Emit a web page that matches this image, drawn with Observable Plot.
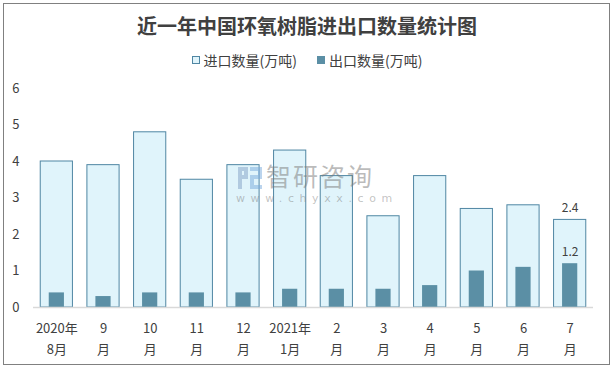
<!DOCTYPE html>
<html><head><meta charset="utf-8">
<script src="https://cdn.jsdelivr.net/npm/d3@7"></script>
<script src="https://cdn.jsdelivr.net/npm/@observablehq/plot@0.6"></script>
<style>
body{margin:0;background:#fff;font-family:"Noto Sans CJK SC","Noto Sans",sans-serif;}
#wrap{position:relative;width:614px;height:369px;overflow:hidden;}
#frame{position:absolute;left:3px;top:3px;width:607px;height:362px;border:1px solid #808080;box-sizing:border-box;}
#title{position:absolute;left:0;top:12px;width:614px;text-align:center;font-size:20px;font-weight:bold;color:#404040;line-height:28px;}
#legend{position:absolute;left:0;top:50px;width:614px;display:flex;justify-content:center;gap:20px;font-size:14px;color:#404040;line-height:20px;}
.item{display:flex;align-items:center;}
.sw{width:8px;height:8px;margin-right:4px;box-sizing:border-box;}
#chart{position:absolute;left:0;top:75px;}
#wm1{position:absolute;left:266px;top:163px;font-size:25px;color:rgba(120,120,120,0.5);line-height:24px;letter-spacing:2px;}
#wm2{position:absolute;left:236px;top:193px;font-size:11px;color:rgba(120,120,120,0.45);letter-spacing:5.6px;line-height:11px;font-family:"DejaVu Sans",sans-serif;}
#logo{position:absolute;left:237px;top:165px;}
</style></head>
<body>
<div id="wrap">
  <div id="frame"></div>
  <div id="title">近一年中国环氧树脂进出口数量统计图</div>
  <div id="legend">
    <div class="item"><div class="sw" style="background:#e0f4fb;border:1px solid #4f86a3"></div>进口数量(万吨)</div>
    <div class="item"><div class="sw" style="background:#5b8fa5"></div>出口数量(万吨)</div>
  </div>
  <div id="chart"></div>
  <svg id="logo" width="26" height="26" viewBox="0 0 26 26">
    <path d="M1 2 H11 V14 H5 V24 H1 Z M5 6 V10 H7 V6 Z" fill="rgba(120,150,190,0.45)"/>
    <path d="M13 2 H25 V14 H17 V20 H25 V24 H13 V10 H21 V6 H13 Z" fill="rgba(120,170,220,0.5)"/>
  </svg>
  <div id="wm1">智研咨询</div>
  <div id="wm2">www.chyxx.com</div>
</div>
<script>
const months = ["2020年\n8月","9\n月","10\n月","11\n月","12\n月","2021年\n1月","2\n月","3\n月","4\n月","5\n月","6\n月","7\n月"];
const importVals = [4.0,3.9,4.8,3.5,3.9,4.3,3.6,2.5,3.6,2.7,2.8,2.4];
const exportVals = [0.4,0.3,0.4,0.4,0.4,0.5,0.5,0.5,0.6,1.0,1.1,1.2];
const yTicks = [0,1,2,3,4,5,6];

const data = months.map((m,i)=>({month:m, imp:importVals[i], exp:exportVals[i]}));
const last = data.slice(-1);

const chart = Plot.plot({
  width:614, height:294,
  marginTop:13, marginBottom:62, marginLeft:33, marginRight:21,
  style:{fontFamily:'"Noto Sans CJK SC","Noto Sans",sans-serif', fontSize:"13px", color:"#404040", background:"transparent", overflow:"visible"},
  x:{domain:months, paddingInner:0.31, paddingOuter:0.155, round:false, axis:null},
  y:{domain:[0,6], axis:null},
  marks:[
    Plot.barY(data,{x:"month", y:"imp", fill:"#e0f4fb", stroke:"#4f86a3", strokeWidth:1}),
    Plot.barY(data,{x:"month", y:"exp", fill:"#5b8fa5", insetLeft:8.5, insetRight:8.5}),
    Plot.ruleY([0],{stroke:"#d9d9d9", strokeWidth:1.5}),
    Plot.axisY({ticks:yTicks, tickFormat:d=>String(d), tickSize:0, tickPadding:14, fontSize:13, fill:"#404040", label:null}),
    Plot.axisX({tickSize:0, tickPadding:11, lineHeight:1.6, fontSize:13, fill:"#404040", label:null}),
    Plot.text(last,{x:"month", y:"imp", text:d=>d.imp.toFixed(1), dy:-12, fontSize:12, fill:"#404040"}),
    Plot.text(last,{x:"month", y:"exp", text:d=>d.exp.toFixed(1), dy:-12, fontSize:12, fill:"#404040"})
  ]
});
document.getElementById("chart").appendChild(chart);
</script>
</body></html>
